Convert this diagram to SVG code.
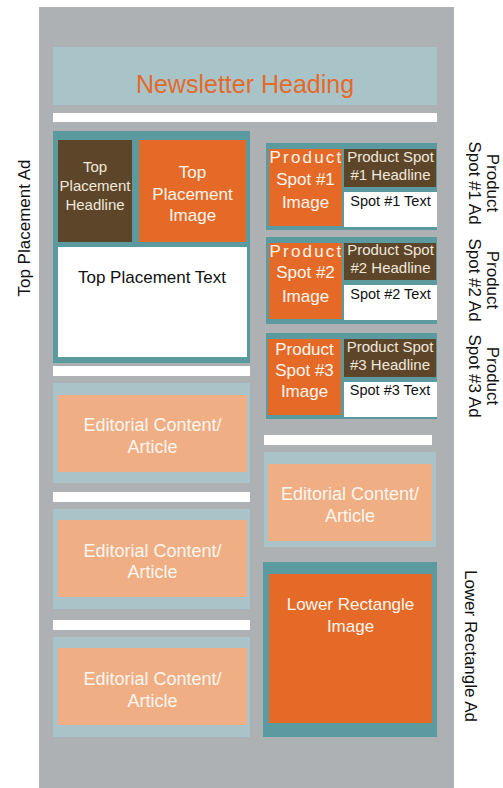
<svg xmlns="http://www.w3.org/2000/svg" width="503" height="788" viewBox="0 0 503 788">
<style>
text{font-family:"Liberation Sans",Arial,sans-serif}
.gray{fill:#aeb1b4}
.lb{fill:#a9c4c9}
.teal{fill:#5b9ba0}
.or{fill:#e56a28}
.br{fill:#5c4529}
.pe{fill:#f0ae85}
.wh{fill:#ffffff}
.c{text-anchor:middle}
.tw{fill:#fdf6ef}
.tc{fill:#f1e8dc}
.tk{fill:#111111}
.f15{font-size:15px}
.f17{font-size:17px}
.f18{font-size:18px}
.f14{font-size:14.5px}
</style>
<rect class="gray" x="39" y="7" width="415" height="781"/>
<g id="heading">
<rect class="lb" x="53" y="47" width="384" height="58"/>
<text x="245" y="93" class="c" style="font-size:25px;fill:#e56a28">Newsletter Heading</text>
</g>
<g id="bars">
<rect class="wh" x="53" y="113" width="384" height="9"/>
<rect class="wh" x="53" y="366" width="197" height="10"/>
<rect class="wh" x="53" y="492" width="197" height="10"/>
<rect class="wh" x="53" y="620" width="197" height="10"/>
<rect class="wh" x="264" y="435" width="168" height="10"/>
</g>
<g id="top-placement">
<rect class="teal" x="53" y="131" width="197" height="232"/>
<rect class="br" x="58" y="140" width="74" height="102"/>
<rect class="or" x="139" y="140" width="107" height="102"/>
<rect class="wh" x="58" y="247" width="189" height="110"/>
<text class="c tc f15" x="95" y="172">Top</text>
<text class="c tc f15" x="95" y="191">Placement</text>
<text class="c tc f15" x="95" y="210">Headline</text>
<text class="c tw f17" x="192.5" y="178">Top</text>
<text class="c tw f17" x="192.5" y="199.5">Placement</text>
<text class="c tw f17" x="192.5" y="221">Image</text>
<text class="c tk f17" x="152" y="283">Top Placement Text</text>
</g>
<g id="editorial-1">
<rect class="lb" x="53" y="383" width="197" height="100"/>
<rect class="pe" x="58" y="395" width="189" height="77"/>
<text class="c tw f18" x="152.5" y="431">Editorial Content/</text>
<text class="c tw f18" x="152.5" y="453">Article</text>
</g>
<g id="editorial-2">
<rect class="lb" x="53" y="509" width="197" height="100"/>
<rect class="pe" x="58" y="520" width="189" height="77"/>
<text class="c tw f18" x="152.5" y="557">Editorial Content/</text>
<text class="c tw f18" x="152.5" y="578">Article</text>
</g>
<g id="editorial-3">
<rect class="lb" x="53" y="637" width="197" height="100"/>
<rect class="pe" x="58" y="648" width="189" height="77"/>
<text class="c tw f18" x="152.5" y="685">Editorial Content/</text>
<text class="c tw f18" x="152.5" y="707">Article</text>
</g>
<g id="product-spot-1">
<rect class="teal" x="266" y="143" width="171" height="87"/>
<rect class="or" x="269" y="149" width="73" height="77"/>
<rect class="br" x="344" y="149" width="92" height="38"/>
<rect class="wh" x="344" y="192" width="93" height="35"/>
<text class="tw f17" x="269.5" y="163" style="letter-spacing:2.2px">Product</text>
<text class="c tw f17" x="305.5" y="185">Spot #1</text>
<text class="c tw f17" x="305.5" y="208">Image</text>
<text class="c tc f15" x="390.5" y="162">Product Spot</text>
<text class="c tc f15" x="390.5" y="180">#1 Headline</text>
<text class="c tk f14" x="390.5" y="206">Spot #1 Text</text>
</g>
<g id="product-spot-2">
<rect class="teal" x="266" y="237" width="171" height="87"/>
<rect class="or" x="269" y="243" width="73" height="76"/>
<rect class="br" x="344" y="243" width="92" height="37"/>
<rect class="wh" x="344" y="285" width="93" height="35"/>
<text class="tw f17" x="269.5" y="257" style="letter-spacing:2.2px">Product</text>
<text class="c tw f17" x="305.5" y="278">Spot #2</text>
<text class="c tw f17" x="305.5" y="302">Image</text>
<text class="c tc f15" x="390.5" y="255">Product Spot</text>
<text class="c tc f15" x="390.5" y="273">#2 Headline</text>
<text class="c tk f14" x="390.5" y="299">Spot #2 Text</text>
</g>
<g id="product-spot-3">
<rect class="teal" x="266" y="333" width="171" height="86"/>
<rect class="or" x="268" y="339" width="73" height="76"/>
<rect class="br" x="344" y="339" width="92" height="38"/>
<rect class="wh" x="344" y="382" width="93" height="35"/>
<text class="c tw f17" x="304.5" y="355">Product</text>
<text class="c tw f17" x="304.5" y="376">Spot #3</text>
<text class="c tw f17" x="304.5" y="397">Image</text>
<text class="c tc f15" x="390" y="352">Product Spot</text>
<text class="c tc f15" x="390" y="370">#3 Headline</text>
<text class="c tk f14" x="390" y="395">Spot #3 Text</text>
</g>
<g id="editorial-right">
<rect class="lb" x="264" y="452" width="172" height="95"/>
<rect class="pe" x="268" y="464" width="164" height="77"/>
<text class="c tw f18" x="350" y="500">Editorial Content/</text>
<text class="c tw f18" x="350" y="522">Article</text>
</g>
<g id="lower-rectangle">
<rect class="teal" x="263" y="562" width="174" height="175"/>
<rect class="or" x="269" y="574" width="163" height="149"/>
<text class="c tw f17" x="350.5" y="610">Lower Rectangle</text>
<text class="c tw f17" x="350.5" y="632">Image</text>
</g>
<g id="labels">
<text class="c tk f17" transform="translate(29.5,228) rotate(-90)">Top Placement Ad</text>
<text class="c tk f17" transform="translate(487,183) rotate(90)">Product</text>
<text class="c tk f17" transform="translate(469,183) rotate(90)">Spot #1 Ad</text>
<text class="c tk f17" transform="translate(487,280) rotate(90)">Product</text>
<text class="c tk f17" transform="translate(469,280) rotate(90)">Spot #2 Ad</text>
<text class="c tk f17" transform="translate(487,376) rotate(90)">Product</text>
<text class="c tk f17" transform="translate(469,376) rotate(90)">Spot #3 Ad</text>
<text class="c tk f17" transform="translate(465,646) rotate(90)">Lower Rectangle Ad</text>
</g>
<g id="connectors"/>
</svg>
